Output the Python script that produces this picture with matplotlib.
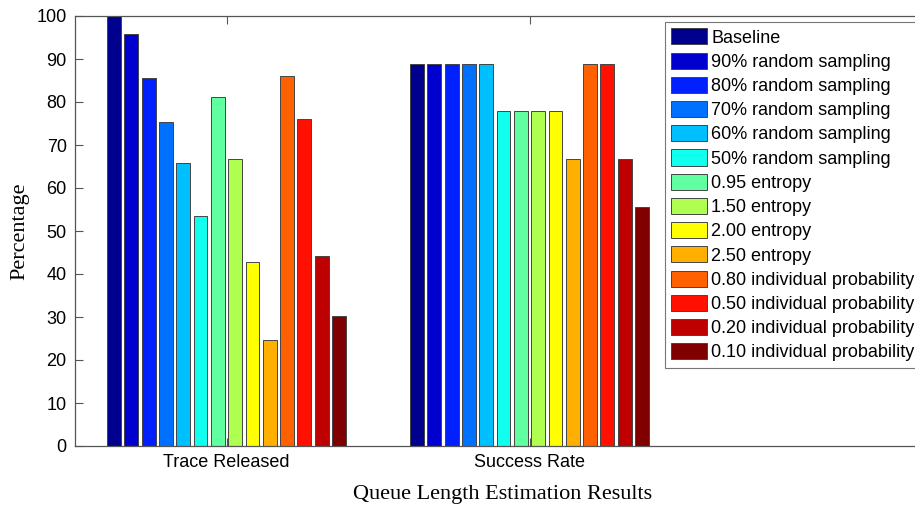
import numpy as np
import matplotlib
matplotlib.use('Agg')
import matplotlib.pyplot as plt

# 数据
groups = ['Trace Released', 'Success Rate']
series_names = ['Baseline', '90% random sampling', '80% random sampling', '70% random sampling',
                '60% random sampling', '50% random sampling', '0.95 entropy', '1.50 entropy',
                '2.00 entropy', '2.50 entropy', '0.80 individual probability',
                '0.50 individual probability', '0.20 individual probability',
                '0.10 individual probability']
trace_released = [100, 95.7, 85.5, 75.4, 65.9, 53.6, 81.2, 66.7, 42.7, 24.6, 86.1, 76.1, 44.3, 30.3]
success_rate = [88.9, 88.9, 88.9, 88.9, 88.9, 77.8, 77.8, 77.8, 77.8, 66.7, 88.9, 88.9, 66.7, 55.6]


def matlab_jet(m=64):
    # MATLAB 的 jet 色图
    n = int(np.ceil(m / 4))
    u = np.concatenate([np.arange(1, n + 1) / n, np.ones(n - 1), np.arange(n, 0, -1) / n])
    g = int(np.ceil(n / 2)) - (1 if m % 4 == 1 else 0) + np.arange(1, len(u) + 1)
    r = g + n
    b = g - n
    J = np.zeros((m, 3))
    J[r[r <= m] - 1, 0] = u[r <= m]
    J[g[g <= m] - 1, 1] = u[g <= m]
    J[b[b >= 1] - 1, 2] = u[b >= 1]
    return J


jet = matlab_jet(64)
ns = len(series_names)
idx = [min(int((i) / (ns - 1) * 64), 63) for i in range(ns)]
colors = [jet[k] for k in idx]

fig = plt.figure(figsize=(9.15, 5.08), dpi=100)
ax = fig.add_axes([75 / 915, 62 / 508, 856 / 915, 430 / 508])

slot = 0.8 / ns
width = 0.8 * slot
x = np.arange(1, len(groups) + 1)
for i in range(ns):
    vals = [trace_released[i], success_rate[i]]
    ax.bar(x + (i - (ns - 1) / 2) * slot, vals, width=width, color=colors[i],
           edgecolor='#444444', linewidth=0.7, label=series_names[i])

ax.set_xlim(0.5, 0.5 + 856 / 303)
ax.set_ylim(0, 100)
ax.set_yticks(range(0, 101, 10))
ax.set_xticks(x)
ax.set_xticklabels(groups)
ax.tick_params(direction='in', length=6, width=0.8, color='#555555', top=True,
               labelsize=13, pad=6)
for lab in ax.get_xticklabels() + ax.get_yticklabels():
    lab.set_family('Liberation Sans')
for s in ax.spines.values():
    s.set_color('#555555')
    s.set_linewidth(0.9)
ax.spines['right'].set_visible(False)

ax.set_ylabel('Percentage', family='Liberation Serif', fontsize=16, labelpad=5)
ax.set_xlabel('Queue Length Estimation Results', family='Liberation Serif', fontsize=16, labelpad=10)

leg = ax.legend(loc='upper left', bbox_to_anchor=(665 / 915, 1 - 22 / 508),
                bbox_transform=fig.transFigure, frameon=True, fancybox=False,
                prop={'family': 'Liberation Sans', 'size': 13},
                handlelength=1.95, handleheight=1.0, handletextpad=0.25,
                labelspacing=0.33, borderpad=0.35, borderaxespad=0)
leg.get_frame().set_edgecolor('#555555')
leg.get_frame().set_linewidth(0.8)

plt.savefig('out.png', dpi=100)
plt.close()
